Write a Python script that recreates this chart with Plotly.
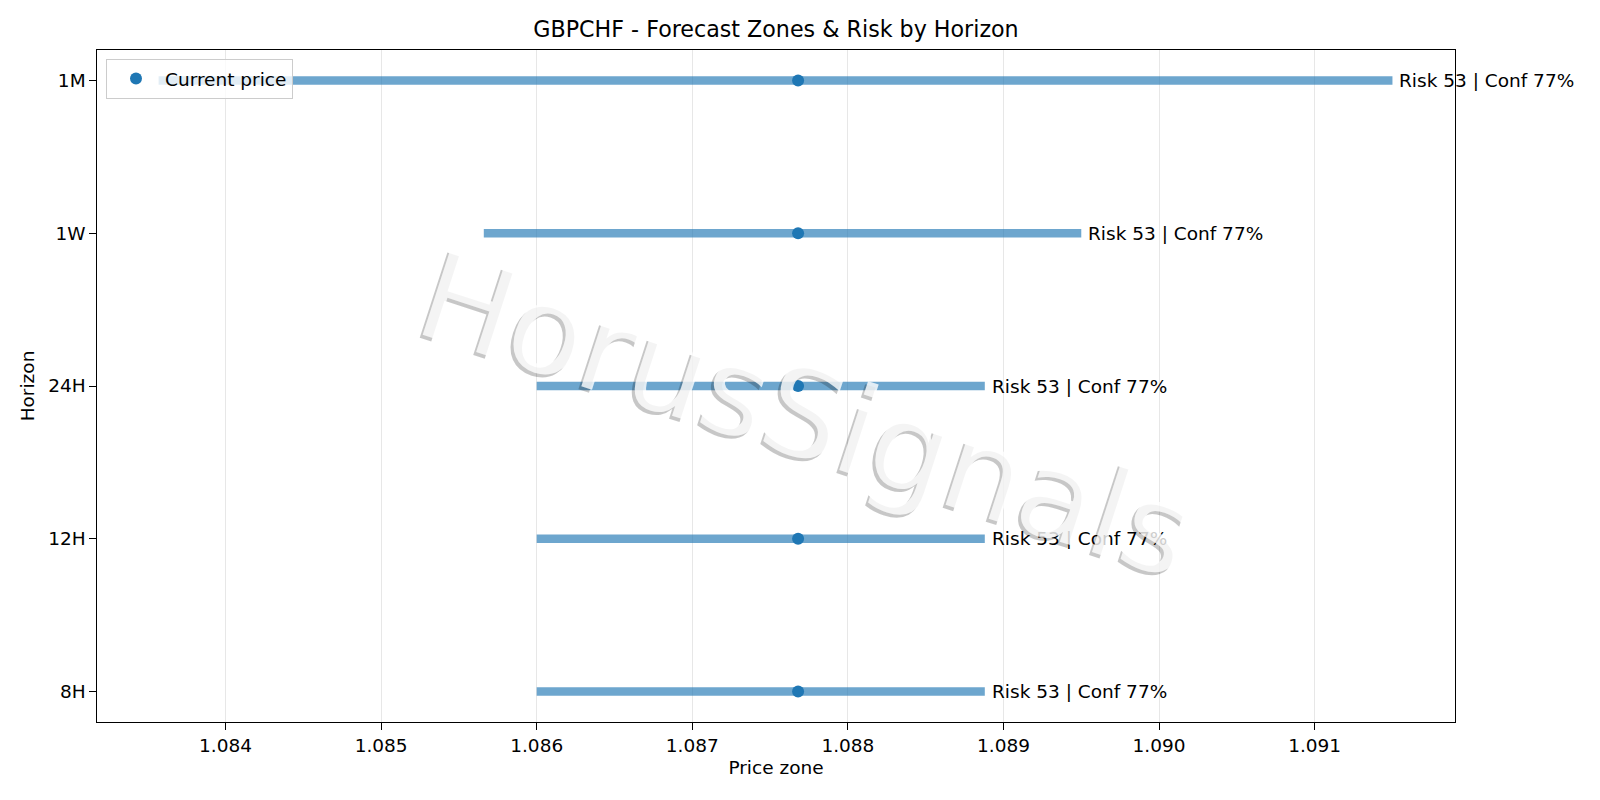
import plotly.graph_objects as go

# ---- data ----
horizons = ["8H", "12H", "24H", "1W", "1M"]
zone_low = [1.0860, 1.0860, 1.0860, 1.08566, 1.08357]
zone_high = [1.08888, 1.08888, 1.08888, 1.0895, 1.09150]
current_price = [1.08768, 1.08768, 1.08768, 1.08768, 1.08768]
risk = [53, 53, 53, 53, 53]
conf = [77, 77, 77, 77, 77]
x_ticks = [1.084, 1.085, 1.086, 1.087, 1.088, 1.089, 1.090, 1.091]

FONT = "DejaVu Sans"
FS = 18.5

# plot area geometry
L, R, T, B = 97, 1455, 50, 722
W, H = 1600, 800

fig = go.Figure()

# zone bars (one trace, segments separated by None)
bx, by = [], []
for h, lo, hi in zip(horizons, zone_low, zone_high):
    bx += [lo, hi, None]
    by += [h, h, None]
fig.add_trace(go.Scatter(
    x=bx, y=by, mode="lines",
    line=dict(color="rgba(31,119,180,0.65)", width=8.5),
    showlegend=False, hoverinfo="skip", connectgaps=False,
))

fig.add_trace(go.Scatter(
    x=current_price, y=horizons, mode="markers",
    marker=dict(color="#1f77b4", size=12),
    name="Current price",
))

annotations = []
for h, hi, r, c in zip(horizons, zone_high, risk, conf):
    annotations.append(dict(
        x=hi, y=h, xref="x", yref="y", text=f"Risk {r} | Conf {c}%",
        showarrow=False, xanchor="left", yanchor="middle", xshift=5,
        font=dict(family=FONT, size=FS, color="black"),
    ))

# watermark: gray shadow + white text on top
wx = (806 - L) / (R - L)
wy = 1 - (414 - T) / (B - T)
annotations.append(dict(
    x=wx, y=wy, xref="paper", yref="paper", text="HorusSignals",
    showarrow=False, textangle=18, xanchor="center", yanchor="middle",
    xshift=-3, yshift=-3,
    font=dict(family=FONT, size=123, color="rgba(0,0,0,0.22)"),
))
annotations.append(dict(
    x=wx, y=wy, xref="paper", yref="paper", text="HorusSignals",
    showarrow=False, textangle=18, xanchor="center", yanchor="middle",
    font=dict(family=FONT, size=123, color="rgba(255,255,255,0.8)"),
))

fig.update_layout(
    width=W, height=H,
    margin=dict(l=L, r=W - R, t=T, b=H - B, pad=0),
    paper_bgcolor="white", plot_bgcolor="white",
    font=dict(family=FONT, size=FS, color="black"),
    title=dict(text="GBPCHF - Forecast Zones & Risk by Horizon",
               x=(L + R) / 2 / W, xanchor="center", xref="container",
               y=1 - 29 / H, yanchor="middle", yref="container",
               font=dict(family=FONT, size=22.2, color="black")),
    showlegend=True,
    legend=dict(x=(106 - L) / (R - L), y=1 - (59 - T) / (B - T), xanchor="left", yanchor="top",
                bgcolor="rgba(255,255,255,0.8)", bordercolor="#cccccc", borderwidth=1,
                itemwidth=48,
                font=dict(family=FONT, size=FS, color="black")),
    annotations=annotations,
)

fig.update_xaxes(
    range=[1.083174, 1.091902], tickvals=x_ticks, tickformat=".3f",
    showgrid=True, gridcolor="rgb(231,231,231)", gridwidth=1,
    showline=True, linecolor="black", linewidth=1.4, mirror=True,
    ticks="outside", ticklen=6.5, tickwidth=1.4, tickcolor="black",
    zeroline=False,
    title=dict(text="Price zone", standoff=6, font=dict(family=FONT, size=FS)),
)
fig.update_yaxes(
    type="category", categoryorder="array", categoryarray=horizons,
    range=[-0.2, 4.2], showgrid=False,
    showline=True, linecolor="black", linewidth=1.4, mirror=True,
    ticks="outside", ticklen=6.5, tickwidth=1.4, tickcolor="black",
    zeroline=False,
    title=dict(text="Horizon", standoff=8, font=dict(family=FONT, size=FS)),
)

fig.write_html("out.html")
